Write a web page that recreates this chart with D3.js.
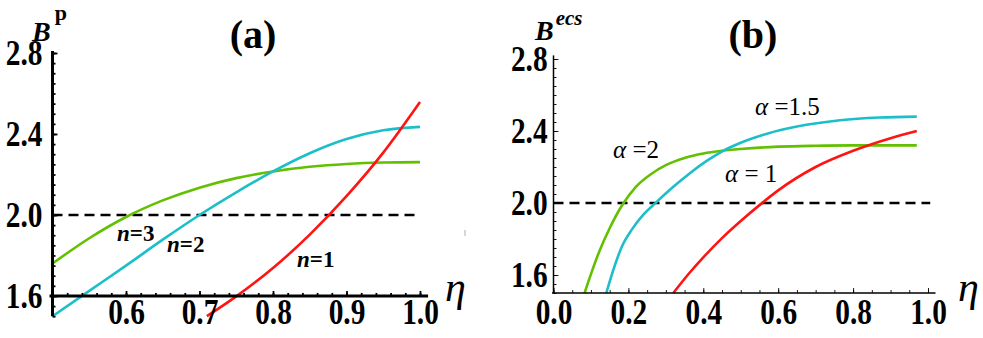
<!DOCTYPE html>
<html>
<head>
<meta charset="utf-8">
<script src="https://cdn.jsdelivr.net/npm/d3@7"></script>
<style>
    body { margin: 0; background: #fff; }
    svg { display: block; }
</style>
</head>
<body>
<svg id="chart" width="983" height="338"></svg>
<script>
// panel (a): B^p vs eta for n = 1, 2, 3
const etaA1 = [0.71, 0.75, 0.8, 0.85, 0.9, 0.95, 1.0];
const bpA1 = [1.5, 1.598, 1.738, 1.903, 2.093, 2.308, 2.558];
const etaA2 = [0.5, 0.55, 0.6, 0.65, 0.7, 0.75, 0.8, 0.85, 0.9, 0.95, 1.0];
const bpA2 = [1.5, 1.625, 1.75, 1.878, 2.0, 2.112, 2.215, 2.305, 2.375, 2.418, 2.435];
const etaA3 = [0.5, 0.55, 0.6, 0.65, 0.7, 0.75, 0.8, 0.85, 0.9, 0.95, 1.0];
const bpA3 = [1.76, 1.885, 1.99, 2.072, 2.135, 2.182, 2.215, 2.238, 2.252, 2.259, 2.261];

// panel (b): B^ecs vs eta for alpha = 1, 1.5, 2
const etaB1 = [0.32, 0.36, 0.4, 0.45, 0.5, 0.56, 0.6, 0.7, 0.8, 0.9, 0.97];
const becsB1 = [1.5, 1.604, 1.698, 1.805, 1.9, 2.005, 2.07, 2.20, 2.29, 2.36, 2.40];
const etaB15 = [0.141, 0.16, 0.183, 0.21, 0.24, 0.275, 0.32, 0.365, 0.41, 0.453, 0.5, 0.57, 0.65, 0.765, 0.87, 0.97];
const becsB15 = [1.5, 1.63, 1.76, 1.855, 1.935, 2.005, 2.09, 2.167, 2.235, 2.29, 2.335, 2.385, 2.425, 2.46, 2.475, 2.48];
const etaB2 = [0.083, 0.1, 0.125, 0.15, 0.184, 0.22, 0.26, 0.3, 0.35, 0.4, 0.45, 0.5, 0.6, 0.7, 0.8, 0.97];
const becsB2 = [1.5, 1.605, 1.745, 1.86, 1.99, 2.09, 2.16, 2.21, 2.25, 2.275, 2.29, 2.30, 2.313, 2.318, 2.32, 2.32];

const yTicks = [1.6, 2.0, 2.4, 2.8];
const xTicksA = [0.6, 0.7, 0.8, 0.9, 1.0];
const xTicksB = [0.0, 0.2, 0.4, 0.6, 0.8, 1.0];
const refLevel = 2.0;

const RED = '#ff1414', CYAN = '#1cbfc9', GREEN = '#62c000';
const SERIF = "'Liberation Serif', 'Times New Roman', serif";

const svg = d3.select('#chart');

const xA = d3.scaleLinear([0.5, 1.0], [52.5, 420]);
const yA = d3.scaleLinear([1.5, 2.8], [316.2, 53]);
const xB = d3.scaleLinear([0, 1], [553.5, 928]);
const yB = d3.scaleLinear([1.5, 2.8], [293, 59]);

function range(a, b, s) {
    return d3.range(Math.round((b - a) / s) + 1).map(i => +(a + i * s).toFixed(3));
}

// tick labels look narrow and tall in the original
function styleLabels(g, size) {
    g.selectAll('text')
        .attr('font-size', size)
        .attr('font-weight', 'bold')
        .attr('transform', 'scale(0.84,1)');
}

function drawAxes(x, y, o) {
    const g = svg.append('g');
    const fmt = d3.format('.1f');

    // minor ticks
    g.append('g')
        .attr('transform', `translate(${x.range()[0]},0)`)
        .call(d3.axisLeft(y).tickValues(range(1.5, 2.8, 0.05)).tickSize(-3).tickFormat(''))
        .call(s => s.select('.domain').remove());
    g.append('g')
        .attr('transform', `translate(0,${y(o.xAxisAt)})`)
        .call(d3.axisBottom(x).tickValues(o.xMinor).tickSize(-3).tickFormat(''))
        .call(s => s.select('.domain').remove());

    // major ticks + labels
    const ya = g.append('g')
        .attr('transform', `translate(${x.range()[0]},0)`)
        .call(d3.axisLeft(y).tickValues(yTicks).tickSize(-5).tickPadding(o.yPad).tickFormat(fmt))
        .call(s => s.select('.domain').remove());
    styleLabels(ya, 35);
    const xa = g.append('g')
        .attr('transform', `translate(0,${y(o.xAxisAt)})`)
        .call(d3.axisBottom(x).tickValues(o.xTicks).tickSize(-5).tickPadding(o.xPad).tickFormat(fmt))
        .call(s => s.select('.domain').remove());
    styleLabels(xa, 35);

    g.selectAll('.tick line').attr('stroke', '#000').attr('stroke-width', o.w * 0.6);

    // axis lines
    g.append('line')
        .attr('x1', x.range()[0]).attr('x2', x.range()[0])
        .attr('y1', y(o.yTop)).attr('y2', y(1.5))
        .attr('stroke', '#000').attr('stroke-width', o.w);
    g.append('line')
        .attr('x1', x.range()[0] - o.w).attr('x2', x(o.xEnd))
        .attr('y1', y(o.xAxisAt)).attr('y2', y(o.xAxisAt))
        .attr('stroke', '#000').attr('stroke-width', o.w);
}

function drawCurves(x, y, series, xEnd) {
    const line = d3.line()
        .x(d => x(d[0]))
        .y(d => y(d[1]))
        .curve(d3.curveMonotoneX);
    // dashed reference at 2.0
    svg.append('line')
        .attr('x1', x.range()[0]).attr('x2', x(xEnd))
        .attr('y1', y(refLevel)).attr('y2', y(refLevel))
        .attr('stroke', '#000').attr('stroke-width', 2.6)
        .attr('stroke-dasharray', '10,6');
    series.forEach(s => {
        svg.append('path')
            .datum(d3.zip(s.eta, s.b))
            .attr('d', line)
            .attr('fill', 'none')
            .attr('stroke', s.color)
            .attr('stroke-width', 2.6);
    });
}

// ---- panel (a)
drawCurves(xA, yA, [
    {eta: etaA3, b: bpA3, color: GREEN},
    {eta: etaA2, b: bpA2, color: CYAN},
    {eta: etaA1, b: bpA1, color: RED},
], 1.0);
drawAxes(xA, yA, {
    xTicks: xTicksA, xMinor: range(0.5, 1.0, 0.02), xAxisAt: 1.6,
    yTop: 2.81, xEnd: 1.011, w: 3, yPad: 12, xPad: 3,
});

// ---- panel (b)
drawCurves(xB, yB, [
    {eta: etaB2, b: becsB2, color: GREEN},
    {eta: etaB15, b: becsB15, color: CYAN},
    {eta: etaB1, b: becsB1, color: RED},
], 1.006);
drawAxes(xB, yB, {
    xTicks: xTicksB, xMinor: range(0, 1.0, 0.05), xAxisAt: 1.5,
    yTop: 2.82, xEnd: 1.02, w: 1.5, yPad: 7, xPad: 6,
});

// curve labels (a)
function nLabel(x, y, num) {
    const t = svg.append('text').attr('x', x).attr('y', y)
        .attr('font-size', 23).attr('font-weight', 'bold');
    t.append('tspan').attr('font-style', 'italic').text('n');
    t.append('tspan').text('=' + num);
}
nLabel(117, 241, '3');
nLabel(167, 252, '2');
nLabel(297, 267, '1');

// curve labels (b)
function aLabel(x, y, str) {
    const t = svg.append('text').attr('x', x).attr('y', y).attr('font-size', 25);
    t.append('tspan').attr('font-style', 'italic').text('α');
    t.append('tspan').text(str);
}
aLabel(755, 115, ' =1.5');
aLabel(613, 158, ' =2');
aLabel(725, 182, ' = 1');

// panel titles
svg.append('text').attr('x', 253).attr('y', 48).attr('text-anchor', 'middle')
    .attr('font-size', 40).attr('font-weight', 'bold').text('(a)');
svg.append('text').attr('x', 753).attr('y', 48).attr('text-anchor', 'middle')
    .attr('font-size', 40).attr('font-weight', 'bold').text('(b)');

// y titles
const bp = svg.append('text').attr('x', 32).attr('y', 41).attr('font-weight', 'bold');
bp.append('tspan').attr('font-size', 28).attr('font-style', 'italic').text('B');
bp.append('tspan').attr('font-size', 22).attr('dx', 4).attr('dy', -21).text('p');

const be = svg.append('text').attr('x', 535).attr('y', 40).attr('font-weight', 'bold');
be.append('tspan').attr('font-size', 28).attr('font-style', 'italic').text('B');
be.append('tspan').attr('font-size', 21).attr('font-style', 'italic').attr('dx', 2).attr('dy', -15).text('ecs');

// x titles
svg.append('text').attr('x', 445).attr('y', 301).attr('font-size', 42).attr('font-style', 'italic').text('η');
svg.append('text').attr('x', 958).attr('y', 301).attr('font-size', 42).attr('font-style', 'italic').text('η');

// small grey speck on the right edge of panel (a)
svg.append('line').attr('x1', 465).attr('x2', 465).attr('y1', 230).attr('y2', 236)
    .attr('stroke', '#c8c8c8').attr('stroke-width', 1.5);

svg.selectAll('text').style('font-family', SERIF).attr('fill', '#000');
</script>
</body>
</html>
